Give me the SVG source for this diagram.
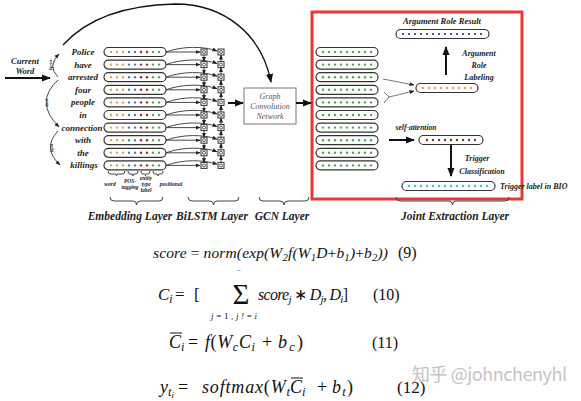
<svg xmlns="http://www.w3.org/2000/svg" xmlns:xlink="http://www.w3.org/1999/xlink" width="581" height="401" viewBox="0 0 581 401">
<style>
.lbl{font-family:"Liberation Serif",serif;font-weight:bold;font-style:italic;fill:#222}
.pill{fill:#fff;stroke:#333;stroke-width:1.2}
.thin{fill:none;stroke:#333;stroke-width:0.9}
.thick{fill:none;stroke:#111;stroke-width:2}
.brace{fill:none;stroke:#444;stroke-width:1}
.f{font-family:"Liberation Serif",serif;font-style:italic;fill:#111}
.n{font-family:"Liberation Serif",serif;font-style:normal;fill:#111}
.sb{font-size:70%}
</style>
<defs>
<marker id="ah" viewBox="0 0 10 10" refX="9" refY="5" markerWidth="9" markerHeight="9" markerUnits="userSpaceOnUse" orient="auto"><path d="M0,1 L10,5 L0,9 z" fill="#111"/></marker>
<marker id="sm" viewBox="0 0 10 10" refX="9" refY="5" markerWidth="5" markerHeight="5" markerUnits="userSpaceOnUse" orient="auto"><path d="M0,1 L10,5 L0,9 z" fill="#222"/></marker>
<g id="pemb"><rect x="0" y="-4.5" width="62" height="9" rx="4.5" class="pill"/>
<circle cx="7" cy="0" r="1.2" fill="#d6a94a"/><circle cx="13" cy="0" r="1.2" fill="#d6a94a"/><circle cx="19" cy="0" r="1.2" fill="#d6a94a"/><circle cx="25" cy="0" r="1.2" fill="#3b82c4"/><circle cx="31" cy="0" r="1.2" fill="#3b82c4"/><circle cx="37" cy="0" r="1.2" fill="#9a2a2a"/><circle cx="43" cy="0" r="1.2" fill="#9a2a2a"/><circle cx="49" cy="0" r="1.2" fill="#5aa55a"/><circle cx="55" cy="0" r="1.2" fill="#5aa55a"/></g>
<g id="pgrn"><rect x="0" y="-4.5" width="62" height="9" rx="4.5" class="pill"/>
<g fill="#4ea84e"><circle cx="7" cy="0" r="1.2"/><circle cx="13" cy="0" r="1.2"/><circle cx="19" cy="0" r="1.2"/><circle cx="25" cy="0" r="1.2"/><circle cx="31" cy="0" r="1.2"/><circle cx="37" cy="0" r="1.2"/><circle cx="43" cy="0" r="1.2"/><circle cx="49" cy="0" r="1.2"/><circle cx="55" cy="0" r="1.2"/></g></g>
<g id="cell"><rect x="-3" y="-3" width="6" height="6" fill="#fff" stroke="#333" stroke-width="1"/><circle r="1.5" fill="none" stroke="#333" stroke-width="0.8"/></g>
</defs>
<rect width="581" height="401" fill="#fff"/>

<g id="current-word">
<text class="lbl" font-size="8.5" text-anchor="middle" x="25" y="64">Current</text>
<text class="lbl" font-size="8.5" text-anchor="middle" x="25" y="74">Word</text>
</g>

<g id="words" class="lbl" font-size="9" text-anchor="middle">
<text x="83" y="55">Police</text>
<text x="83" y="67.6">have</text>
<text x="83" y="80.2">arrested</text>
<text x="83" y="92.8">four</text>
<text x="83" y="105.4">people</text>
<text x="83" y="118">in</text>
<text x="82" y="130.6">connection</text>
<text x="83" y="143.2">with</text>
<text x="83" y="155.8">the</text>
<text x="84" y="168.4">killings</text>
</g>

<g id="dep-labels" class="lbl" font-size="4.5" text-anchor="middle" fill="#333">
<text transform="translate(50,65) rotate(90)">nsubj</text>
<text transform="translate(46,103) rotate(90)">prep</text>
<text transform="translate(51,148) rotate(90)">pobj</text>
</g>

<g id="embedding">
<use xlink:href="#pemb" x="104" y="52"/>
<use xlink:href="#pemb" x="104" y="64.6"/>
<use xlink:href="#pemb" x="104" y="77.2"/>
<use xlink:href="#pemb" x="104" y="89.8"/>
<use xlink:href="#pemb" x="104" y="102.4"/>
<use xlink:href="#pemb" x="104" y="115"/>
<use xlink:href="#pemb" x="104" y="127.6"/>
<use xlink:href="#pemb" x="104" y="140.2"/>
<use xlink:href="#pemb" x="104" y="152.8"/>
<use xlink:href="#pemb" x="104" y="165.4"/>
<g class="lbl" font-size="5.5" text-anchor="middle">
<text x="110" y="186">word</text>
<text x="130" y="183">POS-</text><text x="130" y="189">tagging</text>
<text x="146" y="180">entity</text><text x="146" y="186">type</text><text x="146" y="192">label</text>
<text x="171" y="186">positional</text>
</g>
<path class="brace" d="M108,171 Q108,174 111,174 L115,174 Q116.5,174 116.5,176 Q116.5,174 118,174 L122,174 Q125,174 125,171"/>
<path class="brace" d="M128,171 Q128,174 130,174 L132,174 Q133,174 133,176 Q133,174 134,174 L136,174 Q138,174 138,171"/>
<path class="brace" d="M141,171 Q141,174 143,174 L144.5,174 Q145.5,174 145.5,176 Q145.5,174 146.5,174 L148,174 Q150,174 150,171"/>
<path class="brace" d="M153,171 Q153,174 155,174 L157,174 Q158,174 158,176 Q158,174 159,174 L161,174 Q163,174 163,171"/>
</g>

<g id="bilstm">
<use xlink:href="#cell" x="204" y="52"/><use xlink:href="#cell" x="221" y="52"/>
<use xlink:href="#cell" x="204" y="64.6"/><use xlink:href="#cell" x="221" y="64.6"/>
<use xlink:href="#cell" x="204" y="77.2"/><use xlink:href="#cell" x="221" y="77.2"/>
<use xlink:href="#cell" x="204" y="89.8"/><use xlink:href="#cell" x="221" y="89.8"/>
<use xlink:href="#cell" x="204" y="102.4"/><use xlink:href="#cell" x="221" y="102.4"/>
<use xlink:href="#cell" x="204" y="115"/><use xlink:href="#cell" x="221" y="115"/>
<use xlink:href="#cell" x="204" y="127.6"/><use xlink:href="#cell" x="221" y="127.6"/>
<use xlink:href="#cell" x="204" y="140.2"/><use xlink:href="#cell" x="221" y="140.2"/>
<use xlink:href="#cell" x="204" y="152.8"/><use xlink:href="#cell" x="221" y="152.8"/>
<use xlink:href="#cell" x="204" y="165.4"/><use xlink:href="#cell" x="221" y="165.4"/>
</g>

<g id="gcn">
<rect x="244" y="88" width="52" height="36" fill="#fff" stroke="#777" stroke-width="1"/>
<g font-family="Liberation Serif, serif" font-style="italic" font-size="8" fill="#555" text-anchor="middle">
<text x="270" y="99">Graph</text>
<text x="270" y="109">Convolution</text>
<text x="270" y="119">Network</text>
</g>
</g>

<g id="joint">
<rect x="312" y="12" width="210" height="187" fill="none" stroke="#e53935" stroke-width="3"/>
<use xlink:href="#pgrn" x="316" y="52"/>
<use xlink:href="#pgrn" x="316" y="64.6"/>
<use xlink:href="#pgrn" x="316" y="77.2"/>
<use xlink:href="#pgrn" x="316" y="89.8"/>
<use xlink:href="#pgrn" x="316" y="102.4"/>
<use xlink:href="#pgrn" x="316" y="115"/>
<use xlink:href="#pgrn" x="316" y="127.6"/>
<use xlink:href="#pgrn" x="316" y="140.2"/>
<use xlink:href="#pgrn" x="316" y="152.8"/>
<use xlink:href="#pgrn" x="316" y="165.4"/>
<g id="arg-result">
<text class="lbl" font-size="8.5" x="442" y="24" text-anchor="middle">Argument Role Result</text>
<rect x="396" y="29.5" width="93" height="9" rx="4.5" class="pill"/>
<g fill="#24346e"><circle cx="403" cy="34" r="1.1"/><circle cx="409" cy="34" r="1.1"/><circle cx="415" cy="34" r="1.1"/><circle cx="421" cy="34" r="1.1"/><circle cx="427" cy="34" r="1.1"/><circle cx="433" cy="34" r="1.1"/><circle cx="439" cy="34" r="1.1"/><circle cx="445" cy="34" r="1.1"/><circle cx="451" cy="34" r="1.1"/><circle cx="457" cy="34" r="1.1"/><circle cx="463" cy="34" r="1.1"/><circle cx="469" cy="34" r="1.1"/><circle cx="475" cy="34" r="1.1"/><circle cx="481" cy="34" r="1.1"/></g>
</g>
<g class="lbl" font-size="8" text-anchor="middle">
<text x="479" y="56">Argument</text><text x="479" y="68">Role</text><text x="479" y="80">Labeling</text>
</g>
<g id="arg-vec">
<rect x="416" y="83.5" width="62" height="9" rx="4.5" class="pill"/>
<g fill="#e0a446"><circle cx="423" cy="88" r="1.2"/><circle cx="429" cy="88" r="1.2"/><circle cx="435" cy="88" r="1.2"/><circle cx="441" cy="88" r="1.2"/><circle cx="447" cy="88" r="1.2"/><circle cx="453" cy="88" r="1.2"/><circle cx="459" cy="88" r="1.2"/><circle cx="465" cy="88" r="1.2"/><circle cx="471" cy="88" r="1.2"/></g>
</g>
<text class="lbl" font-size="7.5" x="416" y="130" text-anchor="middle">self-attention</text>
<g id="trig-vec">
<rect x="419" y="135.5" width="64" height="9" rx="4.5" class="pill"/>
<g fill="#9e2424"><circle cx="427" cy="140" r="1.2"/><circle cx="433" cy="140" r="1.2"/><circle cx="439" cy="140" r="1.2"/><circle cx="445" cy="140" r="1.2"/><circle cx="451" cy="140" r="1.2"/><circle cx="457" cy="140" r="1.2"/><circle cx="463" cy="140" r="1.2"/><circle cx="469" cy="140" r="1.2"/><circle cx="475" cy="140" r="1.2"/></g>
</g>
<g class="lbl" font-size="8" text-anchor="middle">
<text x="477" y="161">Trigger</text><text x="482" y="174">Classification</text>
</g>
<g id="trig-label">
<rect x="402" y="181.5" width="93" height="9" rx="4.5" class="pill"/>
<g fill="#3cc3d6"><circle cx="409" cy="186" r="1.2"/><circle cx="415" cy="186" r="1.2"/><circle cx="421" cy="186" r="1.2"/><circle cx="427" cy="186" r="1.2"/><circle cx="433" cy="186" r="1.2"/><circle cx="439" cy="186" r="1.2"/><circle cx="445" cy="186" r="1.2"/><circle cx="451" cy="186" r="1.2"/><circle cx="457" cy="186" r="1.2"/><circle cx="463" cy="186" r="1.2"/><circle cx="469" cy="186" r="1.2"/><circle cx="475" cy="186" r="1.2"/><circle cx="481" cy="186" r="1.2"/><circle cx="487" cy="186" r="1.2"/></g>
<text class="lbl" font-size="8" x="500" y="189">Trigger label in BIO</text>
</g>
</g>

<g id="layer-labels" class="lbl" font-size="11.5" text-anchor="middle">
<path class="brace" d="M110,197 Q110,201 114,201 L133,201 Q136.5,201 136.5,205 Q136.5,201 140,201 L159,201 Q163,201 163,197"/>
<path class="brace" d="M188,197 Q188,201 192,201 L210,201 Q213.5,201 213.5,205 Q213.5,201 217,201 L235,201 Q239,201 239,197"/>
<path class="brace" d="M259,197 Q259,201 263,201 L280,201 Q284,201 284,205 Q284,201 288,201 L305,201 Q309,201 309,197"/>
<path class="brace" d="M396,197 Q396,201 400,201 L449,201 Q452.5,201 452.5,205 Q452.5,201 456,201 L505,201 Q509,201 509,197"/>
<text x="130" y="220">Embedding Layer</text>
<text x="212" y="220">BiLSTM Layer</text>
<text x="282" y="220">GCN Layer</text>
<text x="455" y="220">Joint Extraction Layer</text>
</g>

<g id="connectors">
<path class="thick" d="M5,78 L50,78" marker-end="url(#ah)"/>
<path class="thin" d="M58,77 Q47,66 59,54" marker-end="url(#sm)"/>
<path class="thin" d="M58,80 Q34,102 59,127" marker-end="url(#sm)"/>
<path class="thin" d="M58,131 Q42,148 60,165" marker-end="url(#sm)"/>
<path fill="none" stroke="#111" stroke-width="1.3" d="M63,45 C90,15 130,5 175,4 C225,4 262,35 271,82" marker-end="url(#ah)"/>
<g class="thin" stroke-width="0.8">
<path d="M166,52 L200,52" marker-end="url(#sm)"/><path d="M166,52 C182,46 204,46 217,51" marker-end="url(#sm)"/>
<path d="M166,64.6 L200,64.6" marker-end="url(#sm)"/><path d="M166,64.6 C182,58.6 204,58.6 217,63.6" marker-end="url(#sm)"/>
<path d="M166,77.2 L200,77.2" marker-end="url(#sm)"/><path d="M166,77.2 C182,71.2 204,71.2 217,76.2" marker-end="url(#sm)"/>
<path d="M166,89.8 L200,89.8" marker-end="url(#sm)"/><path d="M166,89.8 C182,83.8 204,83.8 217,88.8" marker-end="url(#sm)"/>
<path d="M166,102.4 L200,102.4" marker-end="url(#sm)"/><path d="M166,102.4 C182,96.4 204,96.4 217,101.4" marker-end="url(#sm)"/>
<path d="M166,115 L200,115" marker-end="url(#sm)"/><path d="M166,115 C182,109 204,109 217,114" marker-end="url(#sm)"/>
<path d="M166,127.6 L200,127.6" marker-end="url(#sm)"/><path d="M166,127.6 C182,121.6 204,121.6 217,126.6" marker-end="url(#sm)"/>
<path d="M166,140.2 L200,140.2" marker-end="url(#sm)"/><path d="M166,140.2 C182,134.2 204,134.2 217,139.2" marker-end="url(#sm)"/>
<path d="M166,152.8 L200,152.8" marker-end="url(#sm)"/><path d="M166,152.8 C182,146.8 204,146.8 217,151.8" marker-end="url(#sm)"/>
<path d="M166,165.4 L200,165.4" marker-end="url(#sm)"/><path d="M166,165.4 C182,159.4 204,159.4 217,164.4" marker-end="url(#sm)"/>
</g>
<g class="thin" stroke-width="1.2">
<path d="M204,55 L204,61.6" marker-end="url(#sm)"/><path d="M204,67.6 L204,74.2" marker-end="url(#sm)"/><path d="M204,80.2 L204,86.8" marker-end="url(#sm)"/><path d="M204,92.8 L204,99.4" marker-end="url(#sm)"/><path d="M204,105.4 L204,112" marker-end="url(#sm)"/><path d="M204,118 L204,124.6" marker-end="url(#sm)"/><path d="M204,130.6 L204,137.2" marker-end="url(#sm)"/><path d="M204,143.2 L204,149.8" marker-end="url(#sm)"/><path d="M204,155.8 L204,162.4" marker-end="url(#sm)"/>
<path d="M221,61.6 L221,55" marker-end="url(#sm)"/><path d="M221,74.2 L221,67.6" marker-end="url(#sm)"/><path d="M221,86.8 L221,80.2" marker-end="url(#sm)"/><path d="M221,99.4 L221,92.8" marker-end="url(#sm)"/><path d="M221,112 L221,105.4" marker-end="url(#sm)"/><path d="M221,124.6 L221,118" marker-end="url(#sm)"/><path d="M221,137.2 L221,130.6" marker-end="url(#sm)"/><path d="M221,149.8 L221,143.2" marker-end="url(#sm)"/><path d="M221,162.4 L221,155.8" marker-end="url(#sm)"/>
</g>
<path class="thick" d="M228,103 L243,103" marker-end="url(#ah)"/>
<path class="thick" d="M296,103 L311,103" marker-end="url(#ah)"/>
<path fill="none" stroke="#555" stroke-width="0.8" d="M383,79 L414,85" marker-end="url(#sm)"/>
<path fill="none" stroke="#555" stroke-width="0.8" d="M384,92 L389,97 L384,103 M389,97 L414,91" marker-end="url(#sm)"/>
<path class="thick" d="M446,75 L446,47" marker-end="url(#ah)"/>
<path class="thick" d="M389,140 L414,140" marker-end="url(#ah)"/>
<path class="thick" d="M451,145 L451,176" marker-end="url(#ah)"/>
</g>

<g id="formulas">
<text class="f" font-size="15.5" x="153" y="258" textLength="235">score <tspan class="n">=</tspan> norm(exp(W<tspan class="sb" dy="3">2</tspan><tspan dy="-3">f(W</tspan><tspan class="sb" dy="3">1</tspan><tspan dy="-3">D<tspan class="n">+</tspan>b</tspan><tspan class="sb" dy="3">1</tspan><tspan dy="-3">)<tspan class="n">+</tspan>b</tspan><tspan class="sb" dy="3">2</tspan><tspan dy="-3">))</tspan></text>
<text class="n" font-size="16" x="398" y="258">(9)</text>

<text class="f" font-size="17" x="158" y="300">C<tspan class="sb" dy="3">i</tspan></text>
<text class="n" font-size="17" x="175" y="300">=</text>
<text class="n" font-size="17" x="194" y="300">[</text>
<text class="n" font-size="29" x="241" y="304" text-anchor="middle">Σ</text>
<text class="n" font-size="9" x="239" y="275" text-anchor="middle">¨</text>
<text class="f" font-size="9" x="234" y="319" text-anchor="middle" textLength="46">j<tspan class="n">=</tspan><tspan class="n">1</tspan>,j!<tspan class="n">=</tspan>i</text>
<text class="f" font-size="16" x="258" y="300" textLength="90">score<tspan class="sb" dy="3">j</tspan><tspan dy="-3" class="n"> ∗ </tspan>D<tspan class="sb" dy="3">j</tspan><tspan dy="-3">, D</tspan><tspan class="sb" dy="3">i</tspan><tspan dy="-3" class="n">]</tspan></text>
<text class="n" font-size="16" x="373" y="300">(10)</text>

<line x1="170" y1="333" x2="182" y2="333" stroke="#111" stroke-width="1"/>
<text class="f" font-size="18" x="169" y="348">C<tspan class="sb" dy="3">i</tspan></text>
<text class="n" font-size="18" x="188" y="348">=</text>
<text class="f" font-size="18" x="205" y="348" textLength="50">f<tspan class="n">(</tspan>W<tspan class="sb" dy="3">c</tspan><tspan dy="-3">C</tspan><tspan class="sb" dy="3">i</tspan></text>
<text class="n" font-size="18" x="262" y="348">+</text>
<text class="f" font-size="18" x="278" y="348" textLength="25">b<tspan class="sb" dy="3">c</tspan><tspan dy="-3" class="n">)</tspan></text>
<text class="n" font-size="16" x="372" y="348">(11)</text>

<text class="f" font-size="18" x="160" y="393">y<tspan class="sb" dy="3">t<tspan font-size="70%" dy="2">i</tspan></tspan></text>
<text class="n" font-size="18" x="178" y="393">=</text>
<text class="f" font-size="18" x="202" y="393" textLength="88">softmax<tspan class="n">(</tspan>W<tspan class="sb" dy="3">t</tspan></text>
<line x1="291" y1="378" x2="303" y2="378" stroke="#111" stroke-width="1"/>
<text class="f" font-size="18" x="290" y="393">C<tspan class="sb" dy="3">i</tspan></text>
<text class="n" font-size="18" x="317" y="393">+</text>
<text class="f" font-size="18" x="332" y="393" textLength="21">b<tspan class="sb" dy="3">t</tspan><tspan dy="-3" class="n">)</tspan></text>
<text class="n" font-size="17" x="397" y="393">(12)</text>
</g>

<text id="watermark" font-family="Noto Sans CJK SC, Noto Sans, sans-serif" font-size="18" fill="#c4c4c4" x="412" y="381" textLength="155">知乎 @johnchenyhl</text>
</svg>
